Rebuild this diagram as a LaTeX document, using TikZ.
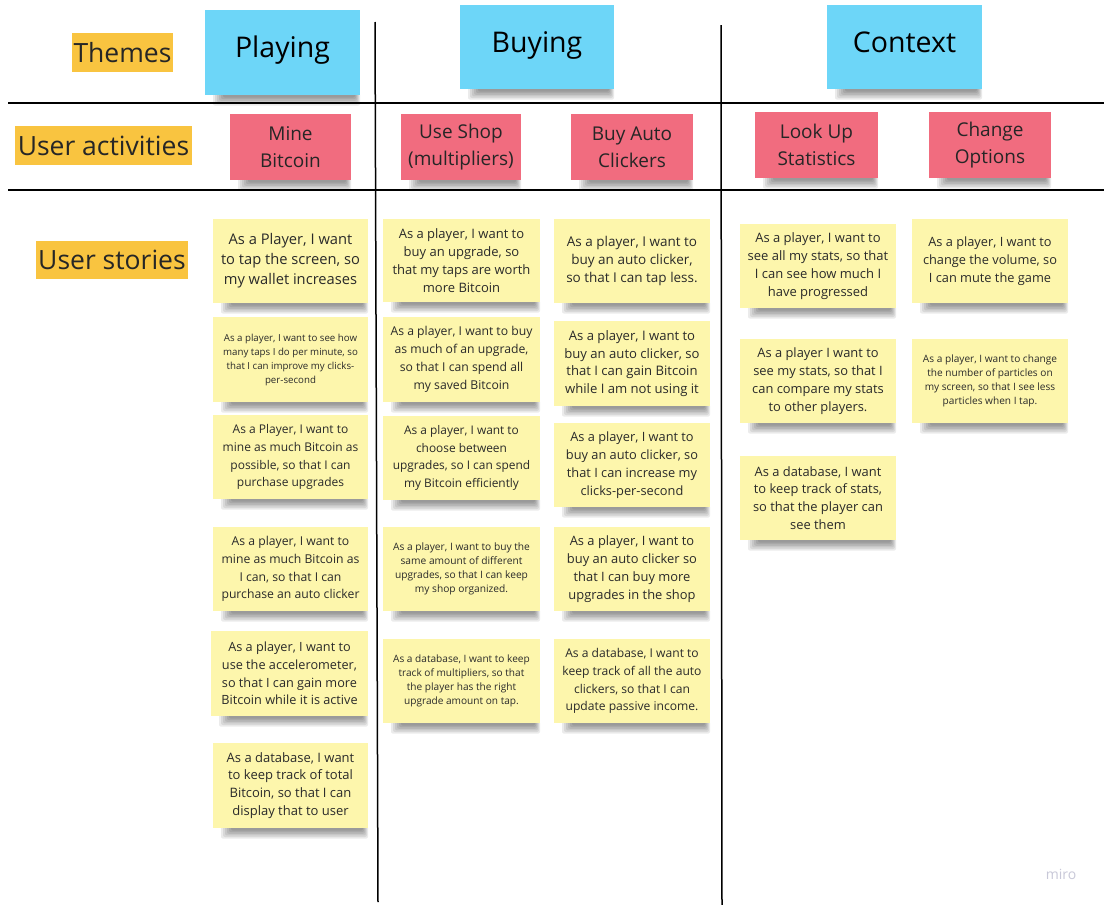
\documentclass[tikz,border=0pt]{standalone}
\usepackage{fontspec}
\setmainfont{Open Sans}
\definecolor{stickyY}{HTML}{FDF6AC}
\definecolor{stickyB}{HTML}{6DD6F8}
\definecolor{stickyR}{HTML}{F16C7F}
\definecolor{labelY}{HTML}{F9C440}
\definecolor{inkC}{HTML}{2A2A2A}
\definecolor{wmark}{HTML}{C8C8D8}
\newcommand\sticky[7]{%
  \foreach \k in {1,...,6}{%
    \fill[black,opacity=0.08,rounded corners=2pt] ({#2+20-2*\k},{#5-2}) rectangle ({#4-6+\k},{#5+1+1.6*\k});
  }%
  \node[#6, minimum width={#4-#2}, minimum height={#5-#3}] (#1) at ({(#2+#4)/2},{(#3+#5)/2}) {#7};
}
\begin{document}
\begin{tikzpicture}[x=1pt,y=-1pt,
  note/.style={inner sep=1pt, align=center, text=inkC},
  story/.style={note, fill=stickyY},
  big/.style={story, font=\fontsize{14.7}{20}\selectfont},
  ms/.style={story, font=\fontsize{#1}{17.8}\selectfont},
  sm/.style={story, font=\fontsize{#1}{14}\selectfont},
  theme/.style={note, fill=stickyB, text=black, font=\fontsize{28.5}{32}\selectfont, text height=21pt, text depth=11pt},
  activity/.style={note, fill=stickyR, text=black!85, font=\fontsize{19}{27}\selectfont},
  rowlabel/.style={fill=labelY, inner sep=0pt, text=black!85, font=\fontsize{26.5}{30}\selectfont},
  sepline/.style={draw=black, line width=2pt},
  colline/.style={draw=black, line width=1.5pt}]
\useasboundingbox (0,0) rectangle (1104,905);
\fill[white] (0,0) rectangle (1104,905);
% separators
\draw[sepline] (8,103) -- (1104,103);
\draw[sepline] (8,190) -- (1104,190);
\draw[colline] (375,22) -- (378,902);
\draw[colline] (721,25) -- (722,905);
% row labels
\node[rowlabel, minimum width=101, minimum height=39] (lthemes) at (122.5,52.5) {Themes};
\node[rowlabel, minimum width=177, minimum height=39] (lact) at (103.5,145.5) {User activities};
\node[rowlabel, minimum width=152, minimum height=38] (lstories) at (112,260) {User stories};
% themes
\sticky{tplay}{205}{10}{360}{95}{theme}{Playing}
\sticky{tbuy}{460}{5}{614}{89}{theme}{Buying}
\sticky{tctx}{827}{5}{982}{89}{theme}{Context}
% activities
\sticky{amine}{230}{114}{351}{180}{activity}{Mine\\Bitcoin}
\sticky{ashop}{401}{114}{521}{180}{activity}{Use Shop\\(multipliers)}
\sticky{aauto}{571}{114}{693}{180}{activity}{Buy Auto\\Clickers}
\sticky{alook}{755}{112}{878}{178}{activity}{Look Up\\Statistics}
\sticky{aopt}{929}{112}{1051}{178}{activity}{Change\\Options}
% column 1
\sticky{s11}{213}{219}{368}{303}{big}{As a Player, I want\\to tap the screen, so\\my wallet increases}
\sticky{s12}{213}{317}{368}{402}{sm=9.7}{As a player, I want to see how\\many taps I do per minute, so\\that I can improve my clicks-\\per-second}
\sticky{s13}{213}{415}{368}{499}{ms=12}{As a Player, I want to\\mine as much Bitcoin as\\possible, so that I can\\purchase upgrades}
\sticky{s14}{213}{527}{368}{611}{ms=12.2}{As a player, I want to\\mine as much Bitcoin as\\I can, so that I can\\purchase an auto clicker}
\sticky{s15}{211}{631}{368}{716}{ms=12.7}{As a player, I want to\\use the accelerometer,\\so that I can gain more\\Bitcoin while it is active}
\sticky{s16}{213}{743}{368}{828}{ms=13}{As a database, I want\\to keep track of total\\Bitcoin, so that I can\\display that to user}
% column 2
\sticky{s21}{383}{219}{540}{302}{ms=13}{As a player, I want to\\buy an upgrade, so\\that my taps are worth\\more Bitcoin}
\sticky{s22}{383}{317}{540}{402}{ms=12.2}{As a player, I want to buy\\as much of an upgrade,\\so that I can spend all\\my saved Bitcoin}
\sticky{s23}{383}{416}{540}{500}{ms=11.9}{As a player, I want to\\choose between\\upgrades, so I can spend\\my Bitcoin efficiently}
\sticky{s24}{383}{527}{540}{611}{sm=10.2}{As a player, I want to buy the\\same amount of different\\upgrades, so that I can keep\\my shop organized.}
\sticky{s25}{383}{639}{540}{723}{sm=10.1}{As a database, I want to keep\\track of multipliers, so that\\the player has the right\\upgrade amount on tap.}
% column 3
\sticky{s31}{554}{219}{710}{303}{ms=13.5}{As a player, I want to\\buy an auto clicker,\\so that I can tap less.}
\sticky{s32}{554}{321}{710}{406}{ms=13.1}{As a player, I want to\\buy an auto clicker, so\\that I can gain Bitcoin\\while I am not using it}
\sticky{s33}{554}{423}{710}{507}{ms=12.8}{As a player, I want to\\buy an auto clicker, so\\that I can increase my\\clicks-per-second}
\sticky{s34}{554}{527}{710}{611}{ms=12.9}{As a player, I want to\\buy an auto clicker so\\that I can buy more\\upgrades in the shop}
\sticky{s35}{554}{639}{710}{723}{ms=12.1}{As a database, I want to\\keep track of all the auto\\clickers, so that I can\\update passive income.}
% column 4
\sticky{s41}{740}{224}{896}{308}{ms=13}{As a player, I want to\\see all my stats, so that\\I can see how much I\\have progressed}
\sticky{s42}{740}{339}{896}{423}{ms=12.9}{As a player I want to\\see my stats, so that I\\can compare my stats\\to other players.}
\sticky{s43}{740}{456}{896}{540}{ms=12.9}{As a database, I want\\to keep track of stats,\\so that the player can\\see them}
% column 5
\sticky{s51}{912}{219}{1068}{303}{ms=12.8}{As a player, I want to\\change the volume, so\\I can mute the game}
\sticky{s52}{912}{339}{1068}{423}{sm=10.1}{As a player, I want to change\\the number of particles on\\my screen, so that I see less\\particles when I tap.}
% watermark
\node[text=wmark, font=\fontsize{14}{16}\selectfont, inner sep=0pt] (miro) at (1061,874) {miro};
\end{tikzpicture}
\end{document}
